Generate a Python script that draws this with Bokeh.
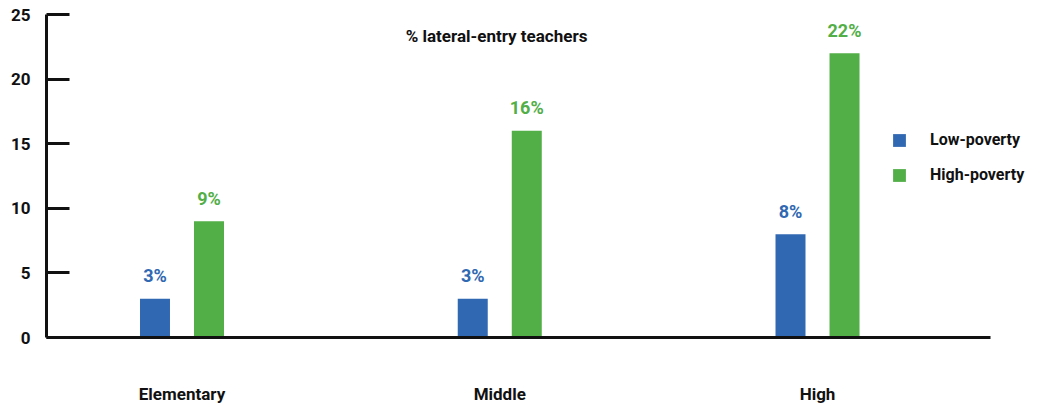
from bokeh.plotting import figure
from bokeh.models import Range1d, FixedTicker, ColumnDataSource, Legend, LegendItem, Label
from bokeh.embed import file_html
from bokeh.resources import INLINE
from bokeh.core.properties import value

categories = ["Elementary", "Middle", "High"]
low_poverty = [3, 3, 8]
high_poverty = [9, 16, 22]
series_names = ["Low-poverty", "High-poverty"]
y_ticks = [0, 5, 10, 15, 20, 25]
title_text = "% lateral-entry teachers"

BLUE = "#3068B2"
GREEN = "#52AE47"
FONT = "Roboto"

p = figure(frame_width=989, frame_height=323, output_backend="svg", toolbar_location=None,
           x_range=Range1d(-0.4264, 2.686), y_range=Range1d(0, 25),
           min_border_left=46, min_border_top=14, min_border_right=5, min_border_bottom=10)
p.outline_line_color = None
p.xgrid.visible = False
p.ygrid.visible = False

xs = list(range(len(categories)))
off = 0.085
w = 0.0944
src_low = ColumnDataSource(dict(x=[i - off for i in xs], top=low_poverty,
                                lab=[f"{v}%" for v in low_poverty]))
src_high = ColumnDataSource(dict(x=[i + off for i in xs], top=high_poverty,
                                 lab=[f"{v}%" for v in high_poverty]))
r1 = p.vbar(x="x", top="top", width=w, bottom=0, source=src_low, fill_color=BLUE, line_color=None)
r2 = p.vbar(x="x", top="top", width=w, bottom=0, source=src_high, fill_color=GREEN, line_color=None)

for src, col in ((src_low, BLUE), (src_high, GREEN)):
    p.text(x="x", y="top", text="lab", source=src, text_color=col, text_align="center",
           text_baseline="middle", y_offset=-23, text_font=value(FONT),
           text_font_size="18px", text_font_style="bold")

p.add_layout(Label(x=450, y=302, x_units="screen", y_units="screen", text=title_text,
                   text_font=FONT, text_font_size="17px", text_font_style="bold",
                   text_align="center", text_baseline="middle", text_color="#111111"))

# axes
ax = p.xaxis[0]
ax.ticker = FixedTicker(ticks=xs)
ax.bounds = (-0.4264, 2.544)
ax.major_label_overrides = {i: c for i, c in enumerate(categories)}
ax.major_tick_line_color = None
ax.minor_tick_line_color = None
ax.axis_line_width = 3
ax.axis_line_color = "#111111"
ax.major_label_standoff = 40
ax.major_label_text_font = FONT
ax.major_label_text_font_size = "17px"
ax.major_label_text_font_style = "bold"
ax.major_label_text_color = "#111111"

ay = p.yaxis[0]
ay.ticker = FixedTicker(ticks=y_ticks)
ay.major_tick_in = 23
ay.major_tick_out = 0
ay.major_tick_line_width = 3
ay.major_tick_line_color = "#111111"
ay.minor_tick_line_color = None
ay.axis_line_width = 3
ay.axis_line_color = "#111111"
ay.major_label_standoff = 16
ay.major_label_text_font = FONT
ay.major_label_text_font_size = "17px"
ay.major_label_text_font_style = "bold"
ay.major_label_text_color = "#111111"

legend = Legend(items=[LegendItem(label=series_names[0], renderers=[r1]),
                       LegendItem(label=series_names[1], renderers=[r2])],
                location=(845, 153), padding=0, margin=0, border_line_color=None,
                background_fill_alpha=0, glyph_width=16, glyph_height=16, label_height=16,
                label_standoff=23, spacing=16, label_text_font=FONT, label_text_font_size="16px",
                label_text_font_style="bold", label_text_color="#111111")
p.add_layout(legend)

open("out.html", "w").write(file_html(p, INLINE))
